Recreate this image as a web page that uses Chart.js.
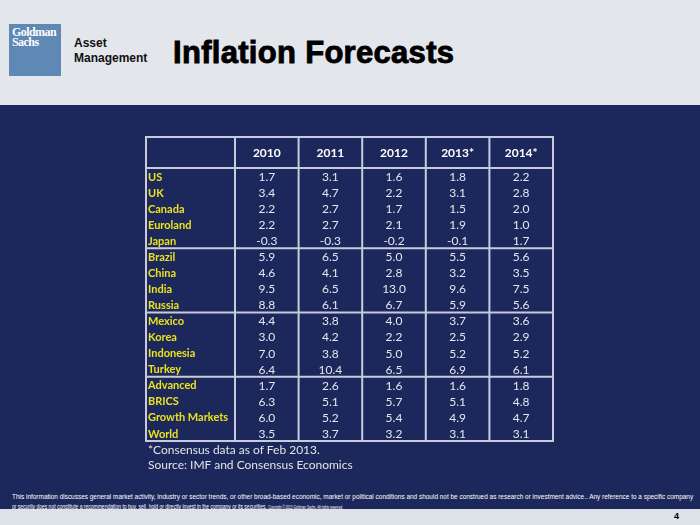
<!DOCTYPE html>
<html>
<head>
<meta charset="utf-8">
<script src="https://cdn.jsdelivr.net/npm/chart.js@4.4.0/dist/chart.umd.min.js"></script>
<style>
  html, body { margin: 0; padding: 0; }
  body { width: 700px; height: 525px; position: relative; overflow: hidden; background: #1c285c; font-family: Lato, "Open Sans", sans-serif; }
  #top { position: absolute; left: 0; top: 0; width: 700px; height: 105px; background: #e3e6ea; }
  #bottom { position: absolute; left: 0; top: 509px; width: 700px; height: 16px; background: #dde2e8; }
  #logo { position: absolute; left: 9px; top: 24px; width: 52px; height: 52px; background: #5f88b5; }
  #logo div { position: absolute; left: 3px; color: #fff; font: bold 13px "Liberation Serif", serif; letter-spacing: -0.6px; transform: scaleX(0.92); transform-origin: left; line-height: 10px; }
  #am { position: absolute; left: 74px; top: 36px; font: bold 12px "Liberation Sans", Arial, sans-serif; line-height: 15px; color: #111; }
  #title { position: absolute; left: 173px; top: 35px; font: bold 31px "Liberation Sans", Arial, sans-serif; color: #000; -webkit-text-stroke: 0.9px #000; letter-spacing: 0.3px; }
  #wrap { position: absolute; left: 140px; top: 130px; width: 420px; height: 320px; }
  .note { position: absolute; left: 148px; color: #e4e4e4; font: 12px Lato, sans-serif; }
  .disc { position: absolute; left: 12px; color: #fff; font: 8px "Liberation Sans Narrow", "Liberation Sans", sans-serif; white-space: nowrap; transform-origin: left; }
  .disc small { font-size: 5px; }
  #page { position: absolute; left: 674px; top: 511px; font: bold 9px "Liberation Sans", sans-serif; color: #000; }
</style>
</head>
<body>
<div id="top"></div>
<div id="bottom"></div>
<div id="logo"><div style="top:3px">Goldman</div><div style="top:13px">Sachs</div></div>
<div id="am">Asset<br>Management</div>
<div id="title">Inflation Forecasts</div>
<div id="wrap"><canvas id="tableChart" width="420" height="320"></canvas></div>
<div class="note" style="top:442px">*Consensus data as of Feb 2013.</div>
<div class="note" style="top:457px">Source: IMF and Consensus Economics</div>
<div class="disc" id="d1" style="top:492px">This information discusses general market activity, industry or sector trends, or other broad-based economic, market or political conditions and should not be construed as research or investment advice.. Any reference to a specific company</div>
<div class="disc" id="d2" style="top:502px">or security does not constitute a recommendation to buy, sell, hold or directly invest in the company or its securities. <small>Copyright © 2013 Goldman Sachs. All rights reserved</small></div>
<div id="page">4</div>
<script>
const years = ['2010', '2011', '2012', '2013*', '2014*'];
const countries = ['US', 'UK', 'Canada', 'Euroland', 'Japan', 'Brazil', 'China', 'India', 'Russia',
    'Mexico', 'Korea', 'Indonesia', 'Turkey', 'Advanced', 'BRICS', 'Growth Markets', 'World'];
const groupEnds = ['Japan', 'Russia', 'Turkey'];

const y2010 = [1.7, 3.4, 2.2, 2.2, -0.3, 5.9, 4.6, 9.5, 8.8, 4.4, 3.0, 7.0, 6.4, 1.7, 6.3, 6.0, 3.5];
const y2011 = [3.1, 4.7, 2.7, 2.7, -0.3, 6.5, 4.1, 6.5, 6.1, 3.8, 4.2, 3.8, 10.4, 2.6, 5.1, 5.2, 3.7];
const y2012 = [1.6, 2.2, 1.7, 2.1, -0.2, 5.0, 2.8, 13.0, 6.7, 4.0, 2.2, 5.0, 6.5, 1.6, 5.7, 5.4, 3.2];
const y2013 = [1.8, 3.1, 1.5, 1.9, -0.1, 5.5, 3.2, 9.6, 5.9, 3.7, 2.5, 5.2, 6.9, 1.6, 5.1, 4.9, 3.1];
const y2014 = [2.2, 2.8, 2.0, 1.0, 1.7, 5.6, 3.5, 7.5, 5.6, 3.6, 2.9, 5.2, 6.1, 1.8, 4.8, 4.7, 3.1];

const columns = [y2010, y2011, y2012, y2013, y2014];

// one point per cell, placed by the category scales
const cells = [];
columns.forEach((col, j) => {
    col.forEach((v, i) => cells.push({ x: years[j], y: countries[i], v: v }));
});

const lineColor = '#c9cbdc';

// draws the table borders from the scales
const tableLines = {
    id: 'tableLines',
    afterDraw(chart) {
        const { ctx, chartArea: a, scales: { x, y } } = chart;
        const left = y.left - 2;
        const top = x.top;
        ctx.save();
        ctx.strokeStyle = lineColor;
        ctx.lineWidth = 2;
        ctx.strokeRect(left, top, a.right - left, a.bottom - top);
        const colW = (a.right - a.left) / years.length;
        ctx.beginPath();
        for (let k = 0; k < years.length; k++) {
            const px = a.left + k * colW;
            ctx.moveTo(px, top);
            ctx.lineTo(px, a.bottom);
        }
        ctx.moveTo(left, a.top);
        ctx.lineTo(a.right, a.top);
        groupEnds.forEach(name => {
            const i = countries.indexOf(name);
            const py = (y.getPixelForValue(i) + y.getPixelForValue(i + 1)) / 2;
            ctx.moveTo(left, py);
            ctx.lineTo(a.right, py);
        });
        ctx.stroke();
        ctx.restore();
    },
    afterDatasetsDraw(chart) {
        const { ctx } = chart;
        const meta = chart.getDatasetMeta(0);
        ctx.save();
        ctx.fillStyle = '#e6e6ea';
        ctx.font = '12px Lato';
        ctx.textAlign = 'center';
        ctx.textBaseline = 'middle';
        meta.data.forEach((pt, idx) => {
            ctx.fillText(cells[idx].v.toFixed(1), pt.x, pt.y + 1);
        });
        ctx.restore();
    }
};

new Chart(document.getElementById('tableChart'), {
    type: 'scatter',
    data: {
        datasets: [{
            data: cells,
            pointRadius: 0,
            pointHoverRadius: 0
        }]
    },
    options: {
        responsive: false,
        animation: false,
        devicePixelRatio: 1,
        layout: { padding: { left: 8, top: 7, right: 7, bottom: 9 } },
        plugins: { legend: { display: false }, tooltip: { enabled: false } },
        scales: {
            x: {
                type: 'category',
                labels: years,
                position: 'top',
                offset: true,
                border: { display: false },
                grid: { display: false, drawTicks: false },
                ticks: { color: '#ffffff', font: { family: 'Lato', size: 12, weight: 'bold' }, padding: 8, maxRotation: 0 },
                afterFit(s) { s.height = 31; }
            },
            y: {
                type: 'category',
                labels: countries,
                offset: true,
                border: { display: false },
                grid: { display: false, drawTicks: false },
                ticks: { color: '#ebe21e', crossAlign: 'far', padding: 0, labelOffset: 1, autoSkip: false, font: { family: 'Lato', size: 11, weight: 'bold' } },
                afterFit(s) { s.width = 87; }
            }
        }
    },
    plugins: [tableLines]
});

// squeeze the disclaimer lines to their width in the slide
[['d1', 681], ['d2', 330]].forEach(([id, w]) => {
    const el = document.getElementById(id);
    el.style.transform = 'scaleX(' + (w / el.offsetWidth) + ')';
});
</script>
</body>
</html>
